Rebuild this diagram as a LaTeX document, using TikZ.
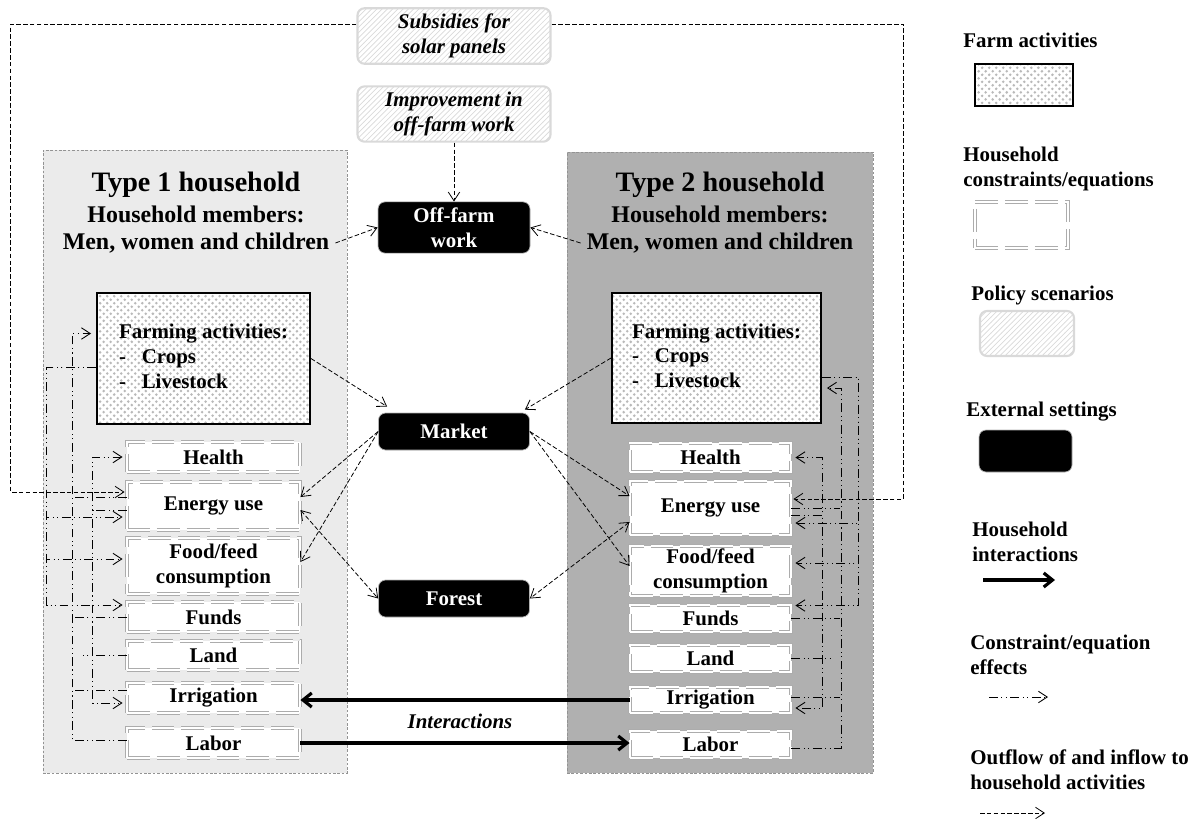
\documentclass[tikz,border=0pt]{standalone}
\usepackage{fontspec}
\setmainfont{Liberation Serif}
\usetikzlibrary{arrows.meta,calc,patterns}

\newcommand{\pxu}{0.02cm}
\newcommand{\bodyfont}{\fontsize{11.9}{14}\selectfont\bfseries}

\pgfdeclarepatternformonly{farmdots}{\pgfqpoint{-1pt}{-1pt}}{\pgfqpoint{5pt}{5pt}}{\pgfqpoint{4pt}{4pt}}{%
	\pgfpathcircle{\pgfqpoint{1pt}{1pt}}{0.8pt}%
	\pgfpathcircle{\pgfqpoint{3pt}{3pt}}{0.8pt}%
	\pgfusepath{fill}}

\tikzset{
	>={Straight Barb[length=5pt,width=6.5pt]},
	hhold/.style={rectangle, draw=gray!85, line width=0.4pt, dash pattern=on 1.5pt off 1pt, inner sep=0pt},
	farm/.style={rectangle, draw, line width=1.1pt, preaction={fill=white}, pattern=farmdots, pattern color=gray!55},
	cons/.style={rectangle, fill=white, draw=gray!65, line width=0.5pt, double=white, double distance=0.9pt, dash pattern=on 13pt off 4pt, align=center, inner sep=1pt},
	ext/.style={rectangle, rounded corners=4pt, fill=black, draw=gray!60, text=white, align=center},
	policy/.style={rectangle, rounded corners=4pt, draw=gray!30, line width=1.2pt, pattern=north east lines, pattern color=gray!30, font=\bodyfont\itshape, align=center},
	flow/.style={line width=0.45pt, dash pattern=on 2.6pt off 1.3pt, ->},
	effect/.style={line width=0.5pt, dash pattern=on 5pt off 2pt on 0.6pt off 2pt on 0.6pt off 2pt, ->},
	inter/.style={line width=1.8pt, -{Straight Barb[length=5pt,width=8pt]}},
	keytext/.style={anchor=west, align=left, inner sep=0pt},
	hhtitle/.style={font=\fontsize{16}{19}\selectfont\bfseries},
	hhsub/.style={font=\fontsize{13.6}{16}\selectfont\bfseries},
}

\begin{document}
\begin{tikzpicture}[x=\pxu, y=-\pxu, font=\bodyfont]
	\useasboundingbox (0,0) rectangle (1195,818);

	% households
	\node[hhold, fill=black!8, minimum width=304*\pxu, minimum height=623*\pxu] (L-hh) at (195,461.5) {};
	\node[hhold, fill=black!31, minimum width=306*\pxu, minimum height=621*\pxu] (R-hh) at (720,462.5) {};

	\node[hhtitle] (L-title) at (196,185) {Type 1 household};
	\node[hhsub] (L-mem) at (196,214) {Household members:};
	\node[hhsub] (L-who) at (196,243) {Men, women and children};
	\node[hhtitle] (R-title) at (720,185) {Type 2 household};
	\node[hhsub] (R-mem) at (720,214) {Household members:};
	\node[hhsub] (R-who) at (720,243) {Men, women and children};

	\node[farm, minimum width=213*\pxu, minimum height=131*\pxu] (L-farm) at (203.5,358.5) {\begin{tabular}{@{}l@{\hspace{9pt}}l@{}}
			\multicolumn{2}{@{}c@{}}{Farming activities:}\\
			- & Crops\\
			- & Livestock\\
	\end{tabular}};
	\node[farm, minimum width=209*\pxu, minimum height=130*\pxu] (R-farm) at (716.5,358) {\begin{tabular}{@{}l@{\hspace{9pt}}l@{}}
			\multicolumn{2}{@{}c@{}}{Farming activities:}\\
			- & Crops\\
			- & Livestock\\
	\end{tabular}};

	% constraints, type 1
	\node[cons, minimum width=173*\pxu, minimum height=30*\pxu] (L-health) at (213.5,457) {Health};
	\node[cons, minimum width=173*\pxu, minimum height=48*\pxu] (L-energy) at (213.5,506) {Energy use};
	\node[cons, minimum width=173*\pxu, minimum height=56*\pxu] (L-food) at (213.5,566) {Food/feed\\consumption};
	\node[cons, minimum width=173*\pxu, minimum height=30*\pxu] (L-funds) at (213.5,617) {Funds};
	\node[cons, minimum width=173*\pxu, minimum height=29*\pxu] (L-land) at (213.5,655.5) {Land};
	\node[cons, minimum width=173*\pxu, minimum height=30*\pxu] (L-irr) at (213.5,698) {Irrigation};
	\node[cons, minimum width=173*\pxu, minimum height=30*\pxu] (L-labor) at (213.5,743) {Labor};

	% constraints, type 2
	\node[cons, minimum width=161*\pxu, minimum height=29*\pxu] (R-health) at (710.5,457.5) {Health};
	\node[cons, minimum width=161*\pxu, minimum height=54*\pxu] (R-energy) at (710.5,508) {Energy use};
	\node[cons, minimum width=161*\pxu, minimum height=50*\pxu] (R-food) at (710.5,571) {Food/feed\\consumption};
	\node[cons, minimum width=161*\pxu, minimum height=27*\pxu] (R-funds) at (710.5,618.5) {Funds};
	\node[cons, minimum width=161*\pxu, minimum height=27*\pxu] (R-land) at (710.5,658.5) {Land};
	\node[cons, minimum width=161*\pxu, minimum height=26*\pxu] (R-irr) at (710.5,700) {Irrigation};
	\node[cons, minimum width=161*\pxu, minimum height=27*\pxu] (R-labor) at (710.5,744.5) {Labor};

	% external settings and policies
	\node[ext, minimum width=152*\pxu, minimum height=49*\pxu] (offfarm) at (454,227.5) {Off-farm\\work};
	\node[ext, minimum width=151*\pxu, minimum height=37*\pxu] (market) at (454,431.5) {Market};
	\node[ext, minimum width=151*\pxu, minimum height=37*\pxu] (forest) at (454,598.5) {Forest};
	\node[policy, minimum width=193*\pxu, minimum height=48*\pxu] (subsidy) at (454,36) {Subsidies for\\solar panels};
	\node[policy, minimum width=193*\pxu, minimum height=48*\pxu] (improve) at (454,114) {Improvement in\\off-farm work};

	% flows
	\draw[flow] (improve) -- (offfarm);
	\draw[flow] (L-who.east) -- (offfarm.west);
	\draw[flow] (R-who.west) -- (offfarm.east);
	\draw[flow] (L-farm.east) -- ($(market.north west)+(9,-6)$);
	\draw[flow] (R-farm.west) -- ($(market.north east)+(-5,-3)$);
	\draw[flow] (market.west) -- ($(L-energy.east)+(0,-9)$);
	\draw[flow] (market.west) -- ($(L-food.east)+(0,-4)$);
	\draw[flow] (market.east) -- ($(R-energy.west)+(0,-12)$);
	\draw[flow] (market.east) -- ($(R-food.west)+(0,-5)$);
	\draw[flow, <->] ($(L-energy.east)+(0,4)$) -- (forest.west);
	\draw[flow, <->] ($(R-energy.west)+(0,14)$) -- (forest.east);
	\draw[flow] ($(subsidy.west)+(0,-12)$) -| ($(L-energy.west)+(-116,-14)$) -- ($(L-energy.west)+(-2,-14)$);
	\draw[flow] ($(subsidy.east)+(0,-12)$) -| ($(R-energy.east)+(112,-9)$) -- ($(R-energy.east)+(2,-9)$);

	% interactions
	\draw[inter] (R-irr.west) -- (R-irr.west -| L-irr.east);
	\draw[inter] (L-labor.east) -- (L-labor.east -| R-labor.west);
	\node[font=\bodyfont\itshape] (interlabel) at (460,721) {Interactions};

	% constraint effects, type 1
	\draw[effect] ($(L-farm.west)+(0,9)$) -| ($(L-energy.west)+(-80,11)$) -- ($(L-energy.west)+(-4,11)$);
	\draw[effect] ($(L-farm.west)+(0,9)$) -| ($(L-food.west)+(-80,-7)$) -- ($(L-food.west)+(-4,-7)$);
	\draw[effect] ($(L-farm.west)+(0,9)$) -| ($(L-funds.west)+(-80,-12)$) -- ($(L-funds.west)+(-4,-12)$);
	\draw[effect] ($(L-labor.west)+(0,-3)$) -| ($(L-farm.west)+(-24,-25)$) -- ($(L-farm.west)+(-5,-25)$);
	\draw[effect, -] ($(L-energy.west)+(0,-9)$) -- ++(-54,0);
	\draw[effect, -] (L-funds.west) -- ++(-54,0);
	\draw[effect, -] ($(L-irr.west)+(0,-8)$) -- ++(-54,0);
	\draw[effect] ($(L-energy.west)+(0,4)$) -| ($(L-health.west)+(-34,0)$) -- ($(L-health.west)+(-4,0)$);
	\draw[effect] ($(L-energy.west)+(0,4)$) -| ($(L-irr.west)+(-34,5)$) -- ($(L-irr.west)+(-4,5)$);
	\draw[effect, -] (L-land.west) -- ++(-44,0);

	% constraint effects, type 2
	\draw[effect] ($(R-farm.east)+(0,19)$) -| ($(R-energy.east)+(67,15)$) -- ($(R-energy.east)+(4,15)$);
	\draw[effect] ($(R-farm.east)+(0,19)$) -| ($(R-food.east)+(67,-8)$) -- ($(R-food.east)+(4,-8)$);
	\draw[effect] ($(R-farm.east)+(0,19)$) -| ($(R-funds.east)+(67,-13)$) -- ($(R-funds.east)+(4,-13)$);
	\draw[effect] ($(R-labor.east)+(0,4)$) -| ($(R-farm.east)+(19,30)$) -- ($(R-farm.east)+(5,30)$);
	\draw[effect, -] (R-energy.east) -- ++(49,0);
	\draw[effect, -] (R-funds.east) -- ++(49,0);
	\draw[effect, -] ($(R-irr.east)+(0,-3)$) -- ++(49,0);
	\draw[effect] ($(R-energy.east)+(0,7)$) -| ($(R-health.east)+(31,0)$) -- ($(R-health.east)+(4,0)$);
	\draw[effect] ($(R-energy.east)+(0,7)$) -| ($(R-irr.east)+(31,8)$) -- ($(R-irr.east)+(4,8)$);
	\draw[effect, -] (R-land.east) -- ++(40,0);

	% legend
	\node[keytext] (key-farm) at (963,40) {Farm activities};
	\node[farm, minimum width=98*\pxu, minimum height=42*\pxu] (key-farmbox) at (1024,85) {};
	\node[keytext] (key-cons) at (963,169) {Household\\constraints/equations};
	\node[cons, minimum width=93*\pxu, minimum height=46*\pxu] (key-consbox) at (1021.5,225) {};
	\node[keytext] (key-policy) at (971,295) {Policy scenarios};
	\node[policy, minimum width=94*\pxu, minimum height=45*\pxu] (key-policybox) at (1027,333.5) {};
	\node[keytext] (key-ext) at (966,412) {External settings};
	\node[ext, minimum width=93*\pxu, minimum height=42*\pxu] (key-extbox) at (1025.5,451) {};
	\node[keytext] (key-inter) at (972,542) {Household\\interactions};
	\coordinate (key-inter-a) at (983,580);
	\coordinate (key-inter-b) at (1055,580);
	\draw[inter] (key-inter-a) -- (key-inter-b);
	\node[keytext] (key-effect) at (970,655) {Constraint/equation\\effects};
	\coordinate (key-effect-a) at (989,697);
	\coordinate (key-effect-b) at (1048,697);
	\draw[effect] (key-effect-a) -- (key-effect-b);
	\node[keytext] (key-flow) at (970,770) {Outflow of and inflow to\\household activities};
	\coordinate (key-flow-a) at (980,813);
	\coordinate (key-flow-b) at (1045,813);
	\draw[flow] (key-flow-a) -- (key-flow-b);
\end{tikzpicture}
\end{document}
